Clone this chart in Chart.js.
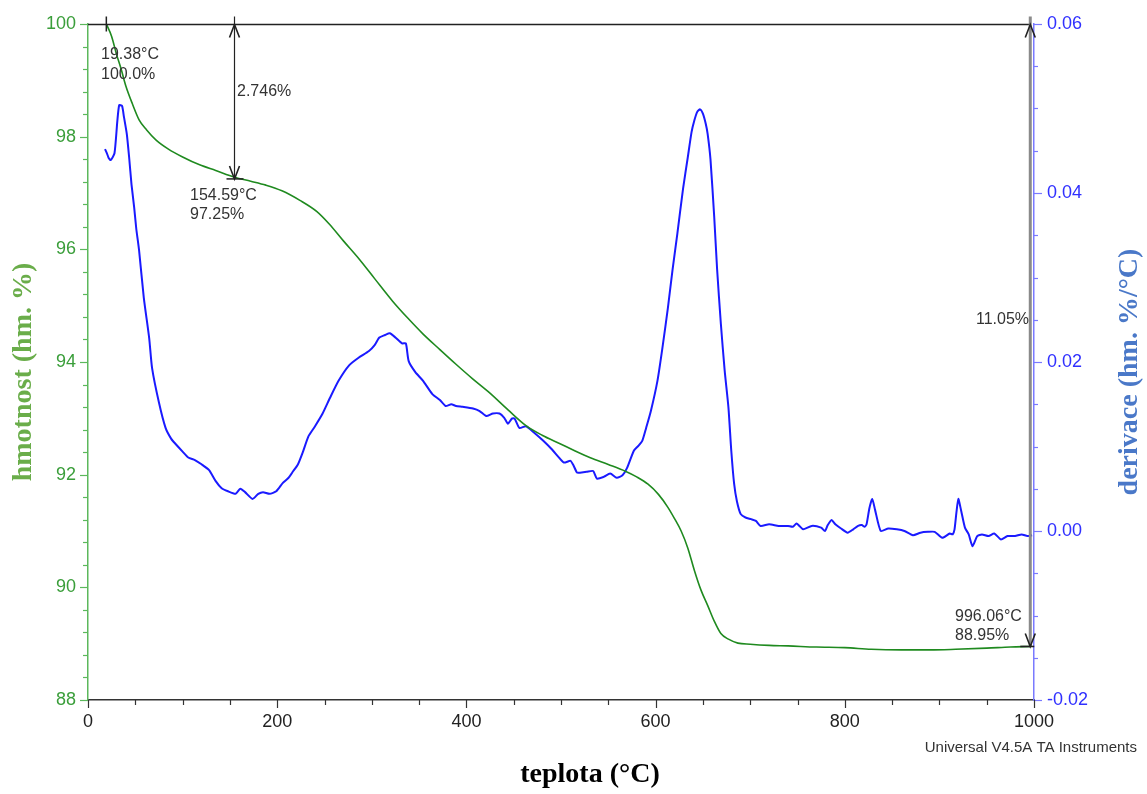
<!DOCTYPE html>
<html>
<head>
<meta charset="utf-8">
<script src="https://cdn.jsdelivr.net/npm/chart.js@4.4.1/dist/chart.umd.min.js"></script>
<style>
  html, body { margin: 0; padding: 0; background: #fff; }
</style>
</head>
<body>
<canvas id="graf" width="1147" height="794"></canvas>
<script>
// TGA krivka - hmotnost (hm. %)
const teplotaHmotnost = [19.4, 25, 30, 35, 40, 47, 54, 62, 72, 85, 100, 118, 135, 155, 172, 188, 205, 224, 242, 255, 270, 287, 303, 322, 338, 354, 372, 389, 406, 424, 444, 463, 480, 499, 515, 531, 550, 568, 580, 592, 603, 613, 620, 627, 634, 641, 648, 655, 662, 669, 677, 687, 700, 720, 740, 770, 800, 828, 860, 890, 917, 950, 975, 996];
const hmotnost = [100.0, 99.78, 99.47, 99.2, 98.9, 98.58, 98.3, 98.12, 97.94, 97.78, 97.64, 97.5, 97.4, 97.28, 97.21, 97.14, 97.04, 96.87, 96.67, 96.45, 96.15, 95.82, 95.48, 95.08, 94.78, 94.5, 94.22, 93.96, 93.71, 93.46, 93.15, 92.87, 92.7, 92.55, 92.42, 92.3, 92.18, 92.06, 91.96, 91.83, 91.65, 91.42, 91.22, 91.0, 90.7, 90.3, 89.95, 89.68, 89.4, 89.18, 89.08, 89.01, 88.99, 88.97, 88.96, 88.94, 88.93, 88.9, 88.89, 88.89, 88.9, 88.92, 88.94, 88.95];

// DTG krivka - derivace (hm. %/°C)
const teplotaDerivace = [18, 20, 22, 24, 28, 31, 33, 36, 38, 41, 43.5, 46, 48.8, 51, 54, 59, 64.7, 67.7, 75, 82, 88, 92.6, 100, 106, 113, 120, 128, 135, 141, 148, 156, 161, 166, 174, 180, 185, 192, 199, 206, 212, 217, 222, 227, 233, 240, 248, 256, 265, 276, 286, 297, 303, 308, 314, 319, 325, 332, 336, 339, 346, 354, 364, 372, 378, 384, 389, 396, 407, 414, 421, 428, 435, 440, 444, 448, 451, 456, 463, 472, 481, 490, 497, 503, 510, 513, 517, 520, 527, 534, 538, 545, 552, 559, 565, 570, 577, 582, 586, 590, 595, 602, 607, 613, 618, 623, 629, 634, 638, 641, 644, 647, 650, 653, 655, 658, 662, 665, 669, 673, 677, 680, 683, 686, 690, 695, 701, 706, 711, 720, 730, 740, 745, 749, 752, 756, 765, 775, 779, 782, 786, 790, 796, 803, 809, 814, 818, 821, 823, 826, 829, 832, 838, 846, 855, 863, 872, 880, 888, 895, 903, 911, 914, 916, 918, 920, 923, 927, 931, 935, 940, 945, 952, 958, 965, 972, 980, 987, 993, 998];
const derivace = [0.0452, 0.0447, 0.0441, 0.0439, 0.0447, 0.0485, 0.0504, 0.0503, 0.049, 0.047, 0.0442, 0.041, 0.0383, 0.0358, 0.0332, 0.0276, 0.0228, 0.0193, 0.0152, 0.0122, 0.0109, 0.0103, 0.0094, 0.0087, 0.0084, 0.0079, 0.0072, 0.0059, 0.0051, 0.0047, 0.0044, 0.005, 0.0046, 0.0038, 0.0044, 0.0046, 0.0044, 0.0047, 0.0057, 0.0063, 0.0071, 0.0079, 0.0093, 0.0112, 0.0124, 0.0139, 0.0158, 0.0178, 0.0196, 0.0205, 0.0213, 0.022, 0.0229, 0.0232, 0.0234, 0.0229, 0.0222, 0.0222, 0.0201, 0.0188, 0.0178, 0.0162, 0.0155, 0.0148, 0.015, 0.0148, 0.0147, 0.0145, 0.0142, 0.0136, 0.0139, 0.0139, 0.0134, 0.0127, 0.0133, 0.0133, 0.0122, 0.0124, 0.0116, 0.0107, 0.0097, 0.0088, 0.0081, 0.0083, 0.0078, 0.0069, 0.0069, 0.007, 0.0071, 0.0062, 0.0064, 0.0068, 0.0063, 0.0066, 0.0075, 0.0095, 0.0101, 0.0107, 0.0122, 0.0142, 0.0178, 0.0215, 0.0264, 0.031, 0.0352, 0.0405, 0.0442, 0.0472, 0.0486, 0.0496, 0.0499, 0.0494, 0.0482, 0.047, 0.044, 0.0371, 0.031, 0.0245, 0.019, 0.0146, 0.0095, 0.0056, 0.0035, 0.002, 0.0016, 0.0014, 0.0012, 0.0006, 0.0008, 0.0006, 0.0006, 0.0005, 0.0009, 0.0006, 0.0002, 0.0006, 0.0004, 0.0, 0.0007, 0.0013, 0.0008, 0.0003, -0.0002, 0.0002, 0.0006, 0.0007, 0.0005, 0.0008, 0.0027, 0.0038, 0.0025, 0.0, 0.0003, 0.0002, 0.0, -0.0005, -0.0002, -0.0001, -0.0001, -0.0008, -0.0003, -0.0004, 0.0002, 0.0022, 0.0038, 0.0024, 0.0004, -0.0004, -0.0018, -0.0006, -0.0004, -0.0006, -0.0003, -0.001, -0.0006, -0.0006, -0.0004, -0.0006, -0.0005, -0.0006, -0.0008];

// rozsahy os
const hmotnostRozsah = [88, 100];
const derivaceRozsah = [-0.02, 0.06];
const teplotaRozsah = [0, 1000];

// body vyhodnoceni (teplota, hmotnost)
const bodStart = [19.38, 100.0];
const bodStred = [154.59, 97.25];
const bodKonec = [996.06, 88.95];
const ztrataStred = "2.746%";
const ztrataKonec = "11.05%";

const zelena = "#1f8a1f";
const zelenaOsa = "#5cb85c";
const zelenaText = "#3a9e3a";
const modra = "#1a1aff";
const modraOsa = "#7a7aff";
const modraText = "#3030ff";

const fontTick = "Liberation Sans";
const fontNadpis = "Liberation Serif";

function sipka(ctx, x, y, smer) {
  // smer -1 = nahoru, 1 = dolu
  ctx.beginPath();
  ctx.moveTo(x - 5, y - smer * 13);
  ctx.lineTo(x, y);
  ctx.lineTo(x + 5, y - smer * 13);
  ctx.stroke();
}

const popisyPlugin = {
  id: "popisy",
  afterDraw(chart) {
    const ctx = chart.ctx;
    const x = chart.scales.x;
    const yL = chart.scales.yL;
    const yR = chart.scales.yR;
    const area = chart.chartArea;

    ctx.save();

    // --- vedlejsi a hlavni carky na osach ---
    ctx.lineWidth = 1.2;
    ctx.strokeStyle = zelenaOsa;
    for (let i = 0; i <= 30; i++) {
      const v = hmotnostRozsah[0] + i * 0.4;
      const py = Math.round(yL.getPixelForValue(v)) + 0.5;
      const len = i % 5 === 0 ? 8 : 5;
      ctx.beginPath();
      ctx.moveTo(area.left - len, py);
      ctx.lineTo(area.left, py);
      ctx.stroke();
    }
    ctx.strokeStyle = modraOsa;
    for (let i = 0; i <= 16; i++) {
      const v = derivaceRozsah[0] + i * 0.005;
      const py = Math.round(yR.getPixelForValue(v)) + 0.5;
      const len = i % 4 === 0 ? 8 : 4;
      ctx.beginPath();
      ctx.moveTo(area.right, py);
      ctx.lineTo(area.right + len, py);
      ctx.stroke();
    }
    ctx.strokeStyle = "#333";
    for (let i = 0; i <= 20; i++) {
      const v = i * 50;
      const px = Math.round(x.getPixelForValue(v)) + 0.5;
      const len = i % 4 === 0 ? 8 : 5;
      ctx.beginPath();
      ctx.moveTo(px, area.bottom);
      ctx.lineTo(px, area.bottom + len);
      ctx.stroke();
    }

    // --- vyhodnoceni ztraty hmotnosti ---
    const y100 = Math.round(yL.getPixelForValue(100)) + 0.5;
    ctx.strokeStyle = "#222";
    ctx.lineWidth = 1.5;
    ctx.beginPath();
    ctx.moveTo(area.left, y100);
    ctx.lineTo(x.getPixelForValue(bodKonec[0]), y100);
    ctx.stroke();

    // start
    const xs = x.getPixelForValue(bodStart[0]);
    ctx.beginPath();
    ctx.moveTo(xs, y100 - 8);
    ctx.lineTo(xs, y100 + 7);
    ctx.stroke();

    // stred
    const xm = Math.round(x.getPixelForValue(bodStred[0])) + 0.5;
    const ym = yL.getPixelForValue(bodStred[1]);
    ctx.lineWidth = 1.2;
    ctx.beginPath();
    ctx.moveTo(xm, y100 - 8);
    ctx.lineTo(xm, ym);
    ctx.stroke();
    ctx.lineWidth = 1.6;
    sipka(ctx, xm, y100, -1);
    sipka(ctx, xm, ym, 1);
    ctx.lineWidth = 1.5;
    ctx.beginPath();
    ctx.moveTo(xm - 8, ym);
    ctx.lineTo(xm + 9, ym);
    ctx.stroke();

    // konec
    const xk = x.getPixelForValue(bodKonec[0]);
    const yk = yL.getPixelForValue(bodKonec[1]);
    ctx.strokeStyle = "#8a8a8a";
    ctx.lineWidth = 3;
    ctx.beginPath();
    ctx.moveTo(xk, y100 - 8);
    ctx.lineTo(xk, yk);
    ctx.stroke();
    ctx.strokeStyle = "#222";
    ctx.lineWidth = 1.6;
    sipka(ctx, xk, y100, -1);
    sipka(ctx, xk, yk, 1);
    ctx.beginPath();
    ctx.moveTo(xk - 10, yk);
    ctx.lineTo(xk + 4, yk);
    ctx.stroke();

    // texty
    ctx.fillStyle = "#333";
    ctx.font = "16px " + fontTick;
    ctx.textBaseline = "middle";
    ctx.textAlign = "left";
    ctx.fillText(bodStart[0].toFixed(2) + "°C", 101, 55);
    ctx.fillText(bodStart[1].toFixed(1) + "%", 101, 75);
    ctx.fillText(ztrataStred, 237, 92);
    ctx.fillText(bodStred[0].toFixed(2) + "°C", 190, 196);
    ctx.fillText(bodStred[1].toFixed(2) + "%", 190, 215);
    ctx.fillText(bodKonec[0].toFixed(2) + "°C", 955, 617);
    ctx.fillText(bodKonec[1].toFixed(2) + "%", 955, 636);
    ctx.textAlign = "right";
    ctx.fillText(ztrataKonec, 1029, 320);

    ctx.font = "15px " + fontTick;
    ctx.fillText("Universal V4.5A TA Instruments", 1137, 748);

    // nadpisy os
    ctx.textAlign = "center";
    ctx.font = "bold 28px " + fontNadpis;
    ctx.fillStyle = "#000";
    ctx.fillText("teplota (°C)", 590, 775);

    ctx.save();
    ctx.translate(24, 372);
    ctx.rotate(-Math.PI / 2);
    ctx.fillStyle = "#6aad4a";
    ctx.fillText("hmotnost (hm. %)", 0, 0);
    ctx.restore();

    ctx.save();
    ctx.translate(1130, 372);
    ctx.rotate(-Math.PI / 2);
    ctx.fillStyle = "#4a78c8";
    ctx.fillText("derivace (hm. %/°C)", 0, 0);
    ctx.restore();

    ctx.restore();
  }
};

const graf = new Chart(document.getElementById("graf").getContext("2d"), {
  type: "line",
  data: {
    datasets: [{
      label: "hmotnost",
      data: teplotaHmotnost.map((t, i) => ({ x: t, y: hmotnost[i] })),
      borderColor: zelena,
      borderWidth: 1.6,
      pointRadius: 0,
      cubicInterpolationMode: "monotone",
      yAxisID: "yL"
    }, {
      label: "derivace",
      data: teplotaDerivace.map((t, i) => ({ x: t, y: derivace[i] })),
      borderColor: modra,
      borderWidth: 2,
      pointRadius: 0,
      tension: 0.2,
      yAxisID: "yR"
    }]
  },
  options: {
    responsive: false,
    animation: false,
    devicePixelRatio: 1,
    layout: { padding: { top: 24, left: 0, right: 0, bottom: 0 } },
    plugins: { legend: { display: false }, tooltip: { enabled: false } },
    scales: {
      x: {
        type: "linear",
        min: teplotaRozsah[0],
        max: teplotaRozsah[1],
        grid: { display: false, drawTicks: false },
        border: { display: true, color: "#333", width: 1.5 },
        ticks: {
          stepSize: 200, padding: 11, color: "#222", font: { family: fontTick, size: 18 },
          callback: v => String(v)
        },
        afterFit(s) { s.height = 94; }
      },
      yL: {
        type: "linear",
        position: "left",
        min: hmotnostRozsah[0],
        max: hmotnostRozsah[1],
        grid: { display: false, drawTicks: false },
        border: { display: true, color: zelenaOsa, width: 1.5 },
        ticks: {
          stepSize: 2, padding: 12, color: zelenaText, font: { family: fontTick, size: 18 },
          callback: v => String(v)
        },
        afterFit(s) { s.width = 88; }
      },
      yR: {
        type: "linear",
        position: "right",
        min: derivaceRozsah[0],
        max: derivaceRozsah[1],
        grid: { display: false, drawTicks: false },
        border: { display: true, color: modraOsa, width: 1.5 },
        ticks: {
          stepSize: 0.02, padding: 13, color: modraText, font: { family: fontTick, size: 18 },
          callback: v => v.toFixed(2)
        },
        afterFit(s) { s.width = 113; }
      }
    }
  },
  plugins: [popisyPlugin]
});
</script>
</body>
</html>
